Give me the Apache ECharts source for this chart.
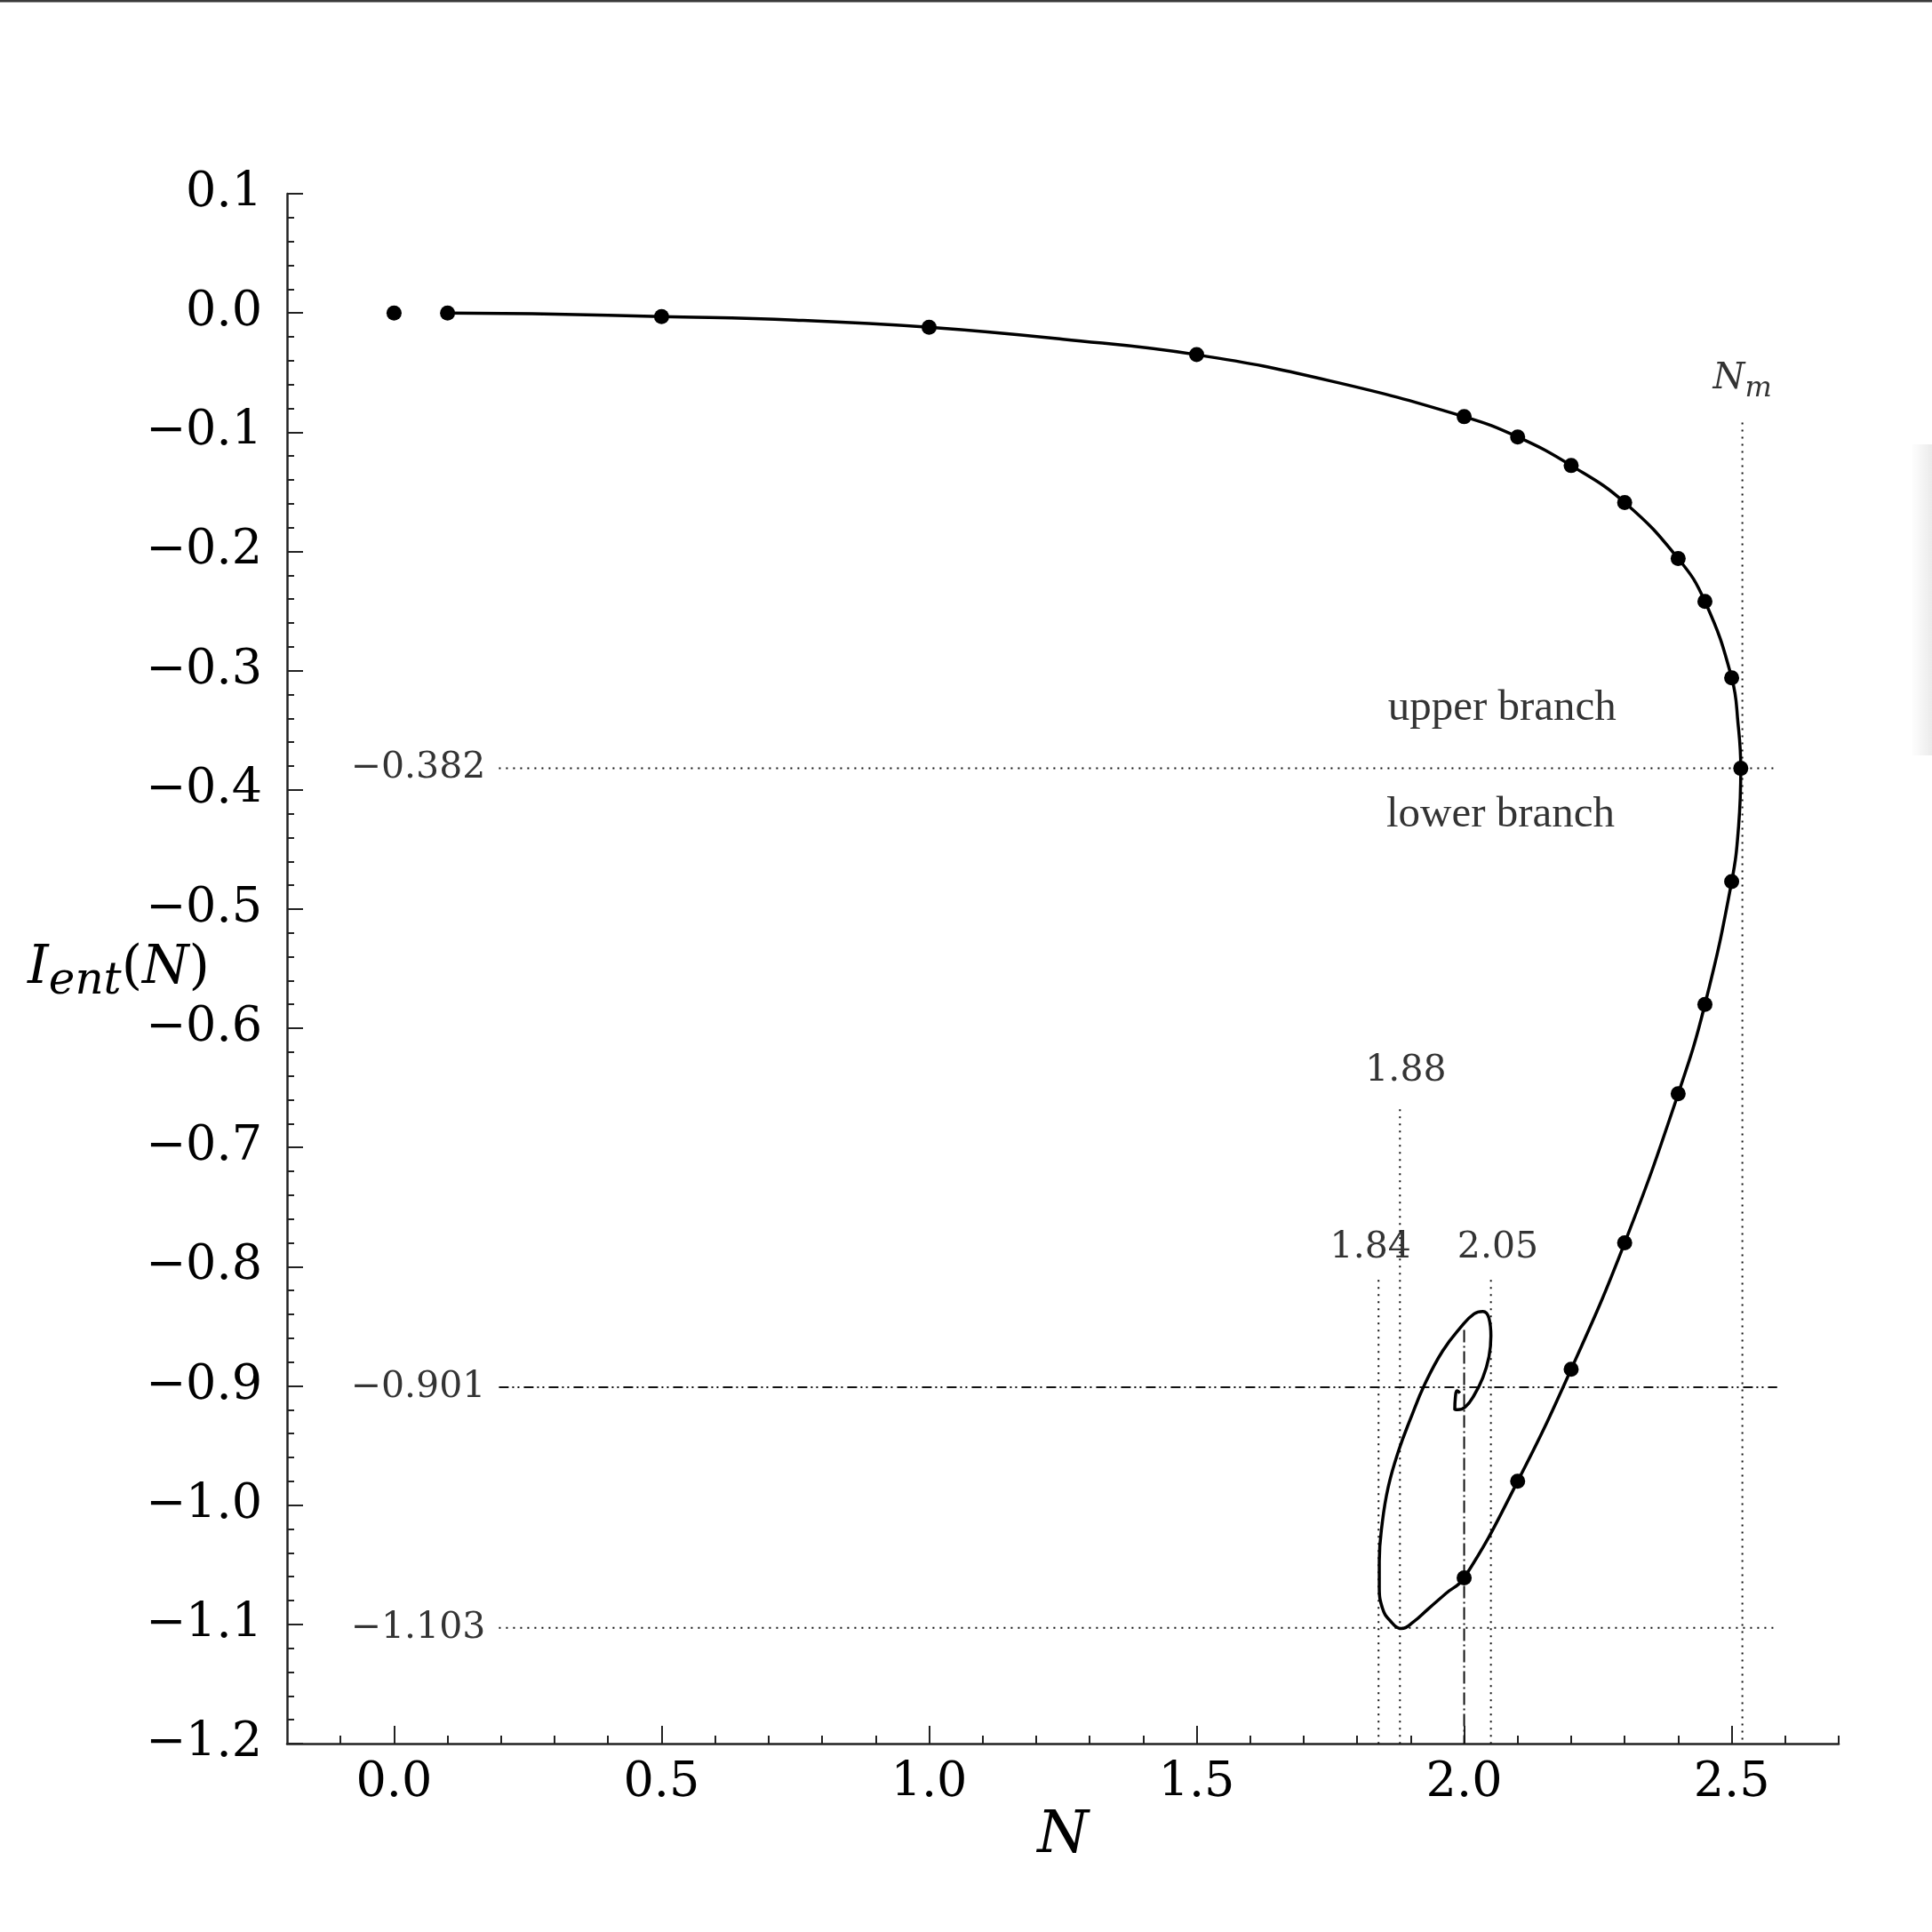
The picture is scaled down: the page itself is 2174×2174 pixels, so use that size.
<!DOCTYPE html>
<html>
<head>
<meta charset="utf-8">
<title>I_ent(N)</title>
<script src="https://cdn.jsdelivr.net/npm/echarts@6/dist/echarts.min.js"></script>
<style>
  html, body { margin: 0; padding: 0; background: #fff; }
  #chart { width: 2174px; height: 2174px; }
</style>
</head>
<body>
<div id="chart"></div>
<script>
// computed points (dots)
const dotN = [0, 0.1, 0.5, 1.0, 1.5, 2.0, 2.1, 2.2, 2.3, 2.4, 2.45, 2.5, 2.517, 2.5, 2.45, 2.4, 2.3, 2.2, 2.1, 2.0]
const dotI = [0, 0, -0.003, -0.012, -0.035, -0.087, -0.104, -0.128, -0.159, -0.206, -0.242, -0.306, -0.382,
  -0.477, -0.580, -0.655, -0.780, -0.886, -0.980, -1.061]

// continuous curve (upper branch, lower branch, loop)
const curveN = [0.1, 0.3, 0.5, 0.75, 1.0, 1.25, 1.5, 1.75, 2.0, 2.1, 2.2, 2.3, 2.4, 2.45, 2.5, 2.512, 2.517,
  2.513, 2.5, 2.45, 2.4, 2.3, 2.2, 2.1, 2.0, 1.966, 1.933, 1.905, 1.883, 1.861, 1.8475, 1.8414, 1.8414,
  1.847, 1.858, 1.877, 1.8996, 1.927, 1.960, 1.9937, 2.0186, 2.035, 2.0464, 2.050, 2.0464, 2.035, 2.0186,
  2.002, 1.988, 1.9825, 1.9835, 1.987, 1.992]
const curveI = [0, -0.001, -0.003, -0.006, -0.012, -0.022, -0.035, -0.057, -0.087, -0.104, -0.128, -0.159,
  -0.206, -0.242, -0.306, -0.345, -0.382, -0.43, -0.477, -0.580, -0.655, -0.780, -0.886, -0.980, -1.061,
  -1.074, -1.087, -1.098, -1.1035, -1.0966, -1.0867, -1.069, -1.047, -1.0146, -0.985, -0.955, -0.9277,
  -0.898, -0.8705, -0.8507, -0.8395, -0.8375, -0.8432, -0.858, -0.8755, -0.893, -0.9078, -0.9177, -0.920,
  -0.9197, -0.910, -0.904, -0.906]

// reference levels
const nMax = 2.52
const branchLevel = -0.382
const crossLevel = -0.901
const loopMinLevel = -1.103
const loopLeftN = 1.84
const loopMinN = 1.88
const loopRightN = 2.05
const crossN = 2.0
const hLineStart = 0.196
const hLineEnd = 2.585

// tick labels
const xMajorTicks = [0, 0.5, 1.0, 1.5, 2.0, 2.5]
const xMinorTicks = [-0.1, 0.1, 0.2, 0.3, 0.4, 0.6, 0.7, 0.8, 0.9, 1.1, 1.2, 1.3, 1.4, 1.6, 1.7, 1.8, 1.9,
  2.1, 2.2, 2.3, 2.4, 2.6, 2.7]

// annotations
const annoText = ['\u22120.382', '\u22120.901', '\u22121.103', '1.88', '1.84', '2.05']
const annoN = [0.045, 0.045, 0.045, 1.891, 1.825, 2.063]
const annoI = [-0.382, -0.901, -1.103, -0.636, -0.784, -0.784]
const branchText = ['upper branch', 'lower branch']
const branchN = [2.071, 2.068]
const branchI = [-0.332, -0.421]

const ink = '#111'
const serif = 'DejaVu Serif'

function zip(a, b) {
  return a.map((v, i) => [v, b[i]])
}

function refLine(points, dash, width) {
  return {
    type: 'line',
    data: points,
    showSymbol: false,
    silent: true,
    z: 2,
    lineStyle: { color: ink, width: width || 2, type: dash }
  }
}

const dotted = [2, 6]
const dashDotDot = [11, 4, 2, 4, 2, 5]
const dashDot = [14, 4, 2, 4]

const chart = echarts.init(document.getElementById('chart'))

chart.setOption({
  animation: false,
  backgroundColor: '#fff',
  grid: { left: 323, right: 105, top: 218, bottom: 212, containLabel: false },
  graphic: [
    { type: 'line', shape: { x1: 0, y1: 1, x2: 2174, y2: 1 }, style: { stroke: '#3a3a3a', lineWidth: 3 } },
    {
      type: 'rect',
      shape: { x: 2150, y: 500, width: 24, height: 350 },
      style: {
        fill: new echarts.graphic.LinearGradient(0, 0, 1, 0, [
          { offset: 0, color: 'rgba(0,0,0,0)' },
          { offset: 1, color: 'rgba(0,0,0,0.08)' }
        ])
      }
    }
  ],
  xAxis: [{
    type: 'value',
    min: -0.2,
    max: 2.7,
    position: 'bottom',
    axisLine: { show: true, onZero: false, lineStyle: { color: '#222', width: 2.5 } },
    axisTick: { show: true, inside: true, length: 20, customValues: xMajorTicks, lineStyle: { color: '#222', width: 2 } },
    axisLabel: {
      customValues: xMajorTicks,
      formatter: v => v.toFixed(1),
      fontFamily: serif,
      fontSize: 54,
      color: '#000',
      margin: 18
    },
    splitLine: { show: false },
    name: 'N',
    nameLocation: 'middle',
    nameGap: 72,
    nameMoveOverlap: false,
    nameTextStyle: { fontFamily: serif, fontStyle: 'italic', fontSize: 66, color: '#000' }
  }, {
    type: 'value',
    min: -0.2,
    max: 2.7,
    position: 'bottom',
    axisLine: { show: false, onZero: false },
    axisTick: { show: true, inside: true, length: 9, customValues: xMinorTicks, lineStyle: { color: '#222', width: 2 } },
    axisLabel: { show: false },
    splitLine: { show: false }
  }],
  yAxis: {
    type: 'value',
    min: -1.2,
    max: 0.1,
    interval: 0.1,
    axisLine: { show: true, onZero: false, lineStyle: { color: '#222', width: 2.5 } },
    axisTick: { show: true, inside: true, length: 18, lineStyle: { color: '#222', width: 2 } },
    minorTick: { show: true, splitNumber: 5, length: 8, lineStyle: { color: '#222', width: 2 } },
    axisLabel: {
      formatter: v => (Math.abs(v) < 1e-9 ? '0.0' : v.toFixed(1).replace('-', '\u2212')),
      fontFamily: serif,
      fontSize: 54,
      color: '#000',
      margin: 28
    },
    splitLine: { show: false },
    minorSplitLine: { show: false },
    name: '{i|I}{s|ent}{p|(}{i|N}{p|)}',
    nameLocation: 'middle',
    nameRotate: 0,
    nameGap: 87,
    nameMoveOverlap: false,
    nameTextStyle: {
      rich: {
        i: { fontFamily: serif, fontStyle: 'italic', fontSize: 60, color: '#000', lineHeight: 80, verticalAlign: 'middle' },
        s: { fontFamily: serif, fontStyle: 'italic', fontSize: 50, color: '#000', lineHeight: 80, verticalAlign: 'bottom' },
        p: { fontFamily: serif, fontSize: 60, color: '#000', lineHeight: 80, verticalAlign: 'middle' }
      }
    }
  },
  series: [
    refLine([[hLineStart, branchLevel], [hLineEnd - 0.005, branchLevel]], dotted),
    refLine([[hLineStart, crossLevel], [hLineEnd, crossLevel]], dashDotDot),
    refLine([[hLineStart, loopMinLevel], [hLineEnd - 0.005, loopMinLevel]], dotted),
    refLine([[nMax, -0.092], [nMax, -1.2]], dotted),
    refLine([[loopMinN, -0.668], [loopMinN, -1.2]], dotted),
    refLine([[loopLeftN, -0.811], [loopLeftN, -1.2]], dotted),
    refLine([[loopRightN, -0.811], [loopRightN, -1.2]], dotted),
    refLine([[crossN, -0.853], [crossN, -1.2]], dashDot),
    {
      type: 'line',
      data: zip(curveN, curveI),
      smooth: 0.45,
      showSymbol: false,
      z: 5,
      lineStyle: { color: '#000', width: 3.5 }
    },
    {
      type: 'scatter',
      data: zip(dotN, dotI),
      symbolSize: 17,
      z: 6,
      itemStyle: { color: '#000', opacity: 1 }
    },
    {
      type: 'scatter',
      data: zip(annoN, annoI),
      symbolSize: 0,
      silent: true,
      label: {
        show: true,
        position: 'inside',
        formatter: p => annoText[p.dataIndex],
        fontFamily: serif,
        fontSize: 41,
        color: '#000'
      }
    },
    {
      type: 'scatter',
      data: zip(branchN, branchI),
      symbolSize: 0,
      silent: true,
      label: {
        show: true,
        position: 'inside',
        formatter: p => branchText[p.dataIndex],
        fontFamily: 'Liberation Serif',
        fontSize: 49,
        color: '#000'
      }
    },
    {
      type: 'scatter',
      data: [[nMax, -0.055]],
      symbolSize: 0,
      silent: true,
      label: {
        show: true,
        position: 'inside',
        formatter: '{n|N}{m|m}',
        rich: {
          n: { fontFamily: serif, fontStyle: 'italic', fontSize: 41, color: '#000', lineHeight: 56, verticalAlign: 'middle' },
          m: { fontFamily: serif, fontStyle: 'italic', fontSize: 32, color: '#000', lineHeight: 56, verticalAlign: 'bottom' }
        }
      }
    }
  ]
})
</script>
</body>
</html>
